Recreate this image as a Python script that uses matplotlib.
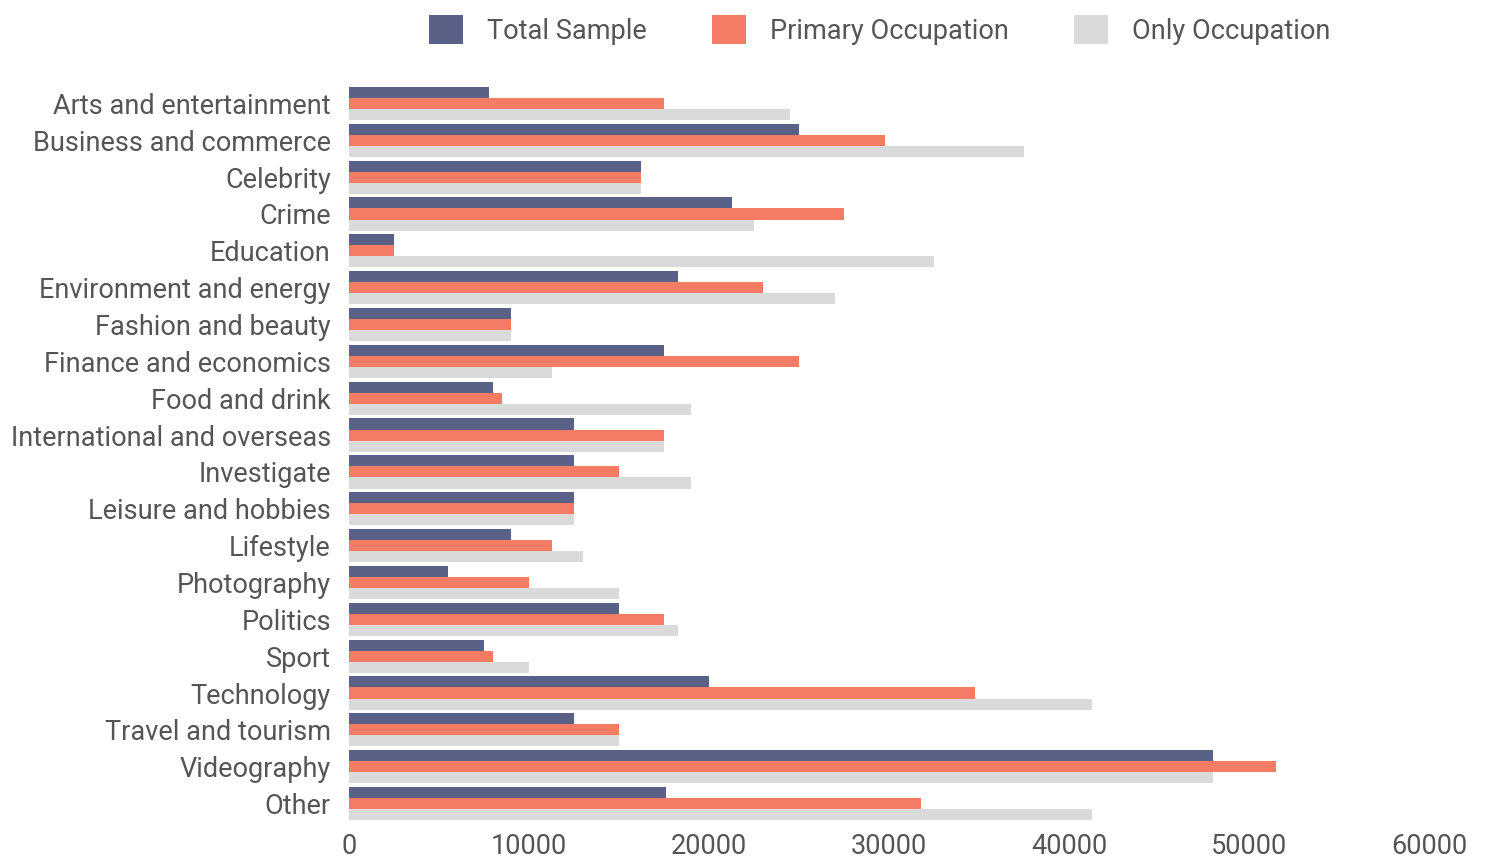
import matplotlib
matplotlib.use("Agg")
import matplotlib.pyplot as plt
from matplotlib.patches import Patch
from matplotlib.transforms import ScaledTranslation
import numpy as np

categories = [
    "Arts and entertainment", "Business and commerce", "Celebrity", "Crime",
    "Education", "Environment and energy", "Fashion and beauty",
    "Finance and economics", "Food and drink", "International and overseas",
    "Investigate", "Leisure and hobbies", "Lifestyle", "Photography",
    "Politics", "Sport", "Technology", "Travel and tourism", "Videography",
    "Other",
]
total_sample = [7800, 25000, 16200, 21300, 2500, 18300, 9000, 17500, 8000, 12500,
                12500, 12500, 9000, 5500, 15000, 7500, 20000, 12500, 48000, 17600]
primary_occupation = [17500, 29800, 16200, 27500, 2500, 23000, 9000, 25000, 8500, 17500,
                      15000, 12500, 11300, 10000, 17500, 8000, 34800, 15000, 51500, 31800]
only_occupation = [24500, 37500, 16200, 22500, 32500, 27000, 9000, 11300, 19000, 17500,
                   19000, 12500, 13000, 15000, 18300, 10000, 41300, 15000, 48000, 41300]
series_names = ["Total Sample", "Primary Occupation", "Only Occupation"]
x_ticks = [0, 10000, 20000, 30000, 40000, 50000, 60000]

colors = ["#5a6187", "#f47b64", "#dadada"]
text_color = "#555555"
font = ["Roboto", "DejaVu Sans"]
fsize = 19.5

W, H = 1486, 860
fig = plt.figure(figsize=(W / 100, H / 100), dpi=100)
ax = fig.add_axes([349 / W, 1 - 822 / H, (1429 - 349) / W, (822 - 85) / H])

y = np.arange(len(categories))
bh = 0.3
for i, (vals, name) in enumerate(zip([total_sample, primary_occupation, only_occupation], series_names)):
    ax.barh(y + (i - 1) * bh, vals, height=bh, color=colors[i], label=name)

ax.set_ylim(len(categories) - 0.5, -0.5)
ax.set_xlim(0, 60000)
ax.set_yticks(y)
ax.set_yticklabels(categories, family=font, fontsize=fsize, color=text_color)
# nudge category labels slightly upward
lift = ScaledTranslation(0, 3 / 100, fig.dpi_scale_trans)
for lbl in ax.get_yticklabels():
    lbl.set_transform(lbl.get_transform() + lift)
ax.set_xticks(x_ticks)
ax.set_xticklabels([str(t) for t in x_ticks], family=font, fontsize=fsize, color=text_color)
ax.tick_params(length=0)
ax.tick_params(axis="y", pad=13)
ax.tick_params(axis="x", pad=8)
for s in ax.spines.values():
    s.set_visible(False)

handles = [Patch(facecolor=c, label=n) for c, n in zip(colors, series_names)]
fig.legend(handles=handles, loc="center", bbox_to_anchor=(880 / W, 1 - 30 / H), ncol=3,
           frameon=False, prop={"family": font, "size": fsize},
           labelcolor=text_color, handlelength=1.25, handleheight=1.25, handletextpad=0.9,
           columnspacing=2.4)

fig.savefig("out.png", dpi=100)
